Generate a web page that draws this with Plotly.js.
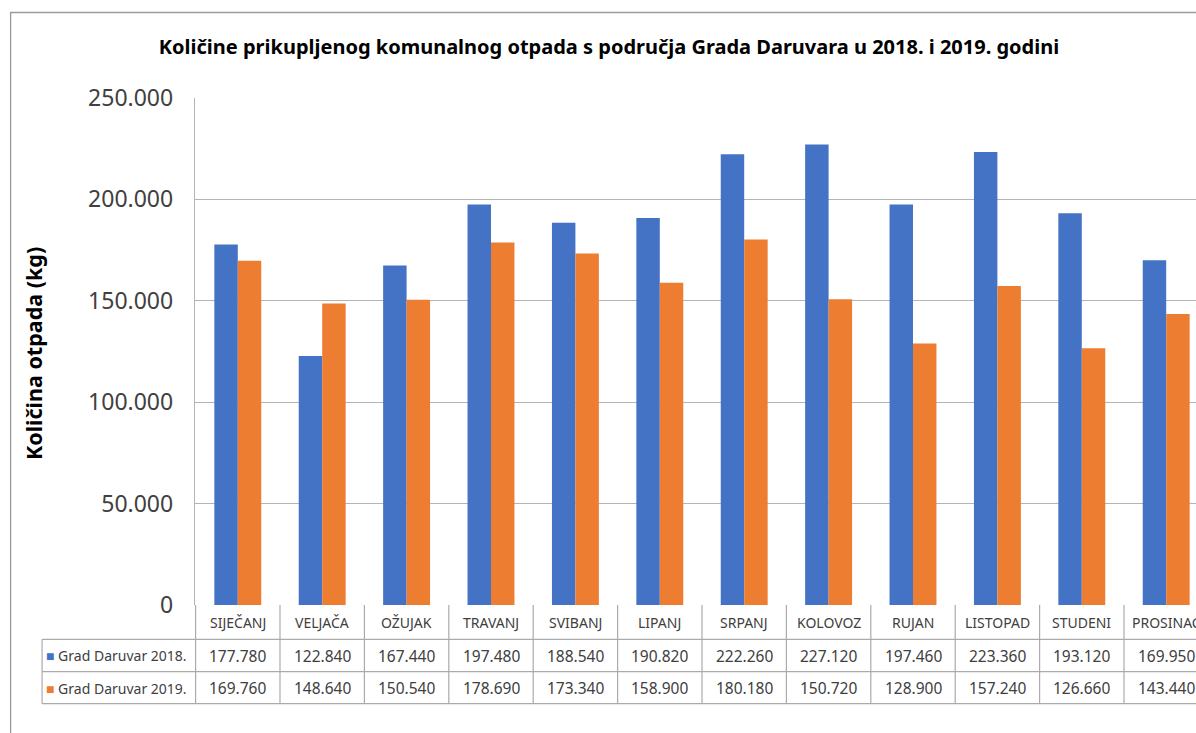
<!DOCTYPE html>
<html>
<head>
<meta charset="utf-8">
<script src="https://cdn.plot.ly/plotly-3.0.1.min.js"></script>
<style>
  html, body { margin: 0; padding: 0; overflow: hidden; background: #fff; }
  #chart { width: 1215px; height: 733px; }
</style>
</head>
<body>
<div id="chart"></div>
<script>
// ---- data ----
const months = ["SIJEČANJ", "VELJAČA", "OŽUJAK", "TRAVANJ", "SVIBANJ", "LIPANJ",
                "SRPANJ", "KOLOVOZ", "RUJAN", "LISTOPAD", "STUDENI", "PROSINAC"];
const seriesNames = ["Grad Daruvar 2018.", "Grad Daruvar 2019."];
const values2018 = [177780, 122840, 167440, 197480, 188540, 190820,
                    222260, 227120, 197460, 223360, 193120, 169950];
const values2019 = [169760, 148640, 150540, 178690, 173340, 158900,
                    180180, 150720, 128900, 157240, 126660, 143440];
const yTicks = [0, 50000, 100000, 150000, 200000, 250000];
const titleText = "Količine prikupljenog komunalnog otpada s područja Grada Daruvara u 2018. i 2019. godini";
const yTitleText = "Količina otpada (kg)";

// ---- style ----
const colors = ["#4472C4", "#ED7D31"];
const W = 1215, H = 733;
const M = { l: 195, r: 5.5, t: 98, b: 128 };
const plotH = H - M.t - M.b;
const plotW = W - M.l - M.r;
const py = px => (H - M.b - px) / plotH;     // pixel row -> paper y
const pxX = px => (px - M.l) / plotW;        // pixel col -> paper x
const gridColor = "#b4b4b4";
const tableColor = "#ababab";
const textColor = "#404040";
const FONT = "Noto Sans, Open Sans, sans-serif";

function fmt(v) { return String(v).replace(/\B(?=(\d{3})+(?!\d))/g, "."); }

const traces = [values2018, values2019].map((vals, k) => ({
  type: "bar",
  name: seriesNames[k],
  x: months,
  y: vals,
  marker: { color: colors[k], line: { width: 0 } },
  hoverinfo: "x+y"
}));

// table rows (paper y)
const rowHeaderY = py(622);
const rowYs = [py(655.5), py(688)];
const lineYs = [py(639.3), py(671.6), py(703.7)];
const tableLeft = pxX(42);

const shapes = [];
// outer chart border
shapes.push({ type: "rect", xref: "paper", yref: "paper",
  x0: pxX(10.5), x1: pxX(1300), y0: py(12.5), y1: py(800),
  line: { color: "#9a9a9a", width: 1.3 }, fillcolor: "rgba(0,0,0,0)", layer: "below" });
// horizontal table lines
lineYs.forEach(y => shapes.push({ type: "line", xref: "paper", yref: "paper",
  x0: tableLeft, x1: 1.2, y0: y, y1: y, line: { color: tableColor, width: 1.2 } }));
// vertical table lines at category boundaries
for (let i = 0; i <= months.length; i++) {
  shapes.push({ type: "line", xref: "x", yref: "paper",
    x0: i - 0.5, x1: i - 0.5, y0: 0, y1: lineYs[2], line: { color: tableColor, width: 1.2 } });
}
// left table edge for series rows
shapes.push({ type: "line", xref: "paper", yref: "paper",
  x0: tableLeft, x1: tableLeft, y0: lineYs[0], y1: lineYs[2], line: { color: tableColor, width: 1.2 } });

const annotations = [];
months.forEach((m, i) => {
  annotations.push({ x: m, xref: "x", y: rowHeaderY, yref: "paper", text: m, showarrow: false,
    xanchor: "center", yanchor: "middle", font: { family: FONT, size: 14, color: textColor } });
  [values2018, values2019].forEach((vals, k) => {
    annotations.push({ x: m, xref: "x", y: rowYs[k], yref: "paper", text: fmt(vals[i]), showarrow: false,
      xanchor: "center", yanchor: "middle", font: { family: FONT, size: 15.5, color: textColor } });
  });
});
seriesNames.forEach((n, k) => {
  annotations.push({ x: pxX(44), xref: "paper", y: rowYs[k], yref: "paper",
    text: "<span style='color:" + colors[k] + "'>■</span> " + n, showarrow: false,
    xanchor: "left", yanchor: "middle", font: { family: FONT, size: 14, color: textColor } });
});
// y-axis title
annotations.push({ x: pxX(33), xref: "paper", y: py(354), yref: "paper", text: "<b>" + yTitleText + "</b>",
  textangle: -90, showarrow: false, xanchor: "center", yanchor: "middle",
  font: { family: FONT, size: 21.5, color: "#000" } });

const layout = {
  width: W, height: H,
  margin: M,
  paper_bgcolor: "#fff", plot_bgcolor: "#fff",
  separators: ",.",
  showlegend: false,
  barmode: "group", bargap: 0.444, bargroupgap: 0,
  title: { text: "<b>" + titleText + "</b>", x: 609 / W, xanchor: "center",
           y: 1 - 47 / H, yanchor: "middle",
           font: { family: FONT, size: 20, color: "#000" } },
  xaxis: { type: "category", showticklabels: false, showgrid: false, zeroline: false,
           showline: false, ticks: "", fixedrange: true },
  yaxis: { range: [0, 250000], tickvals: yTicks, tickformat: ",d", showgrid: true,
           gridcolor: gridColor, gridwidth: 1, zeroline: false, showline: true, linecolor: gridColor,
           linewidth: 1.2, ticks: "", ticklabelstandoff: 16,
           tickfont: { family: FONT, size: 23, color: textColor } },
  shapes: shapes,
  annotations: annotations
};

Plotly.newPlot("chart", traces, layout, { displayModeBar: false, staticPlot: true });
</script>
</body>
</html>
